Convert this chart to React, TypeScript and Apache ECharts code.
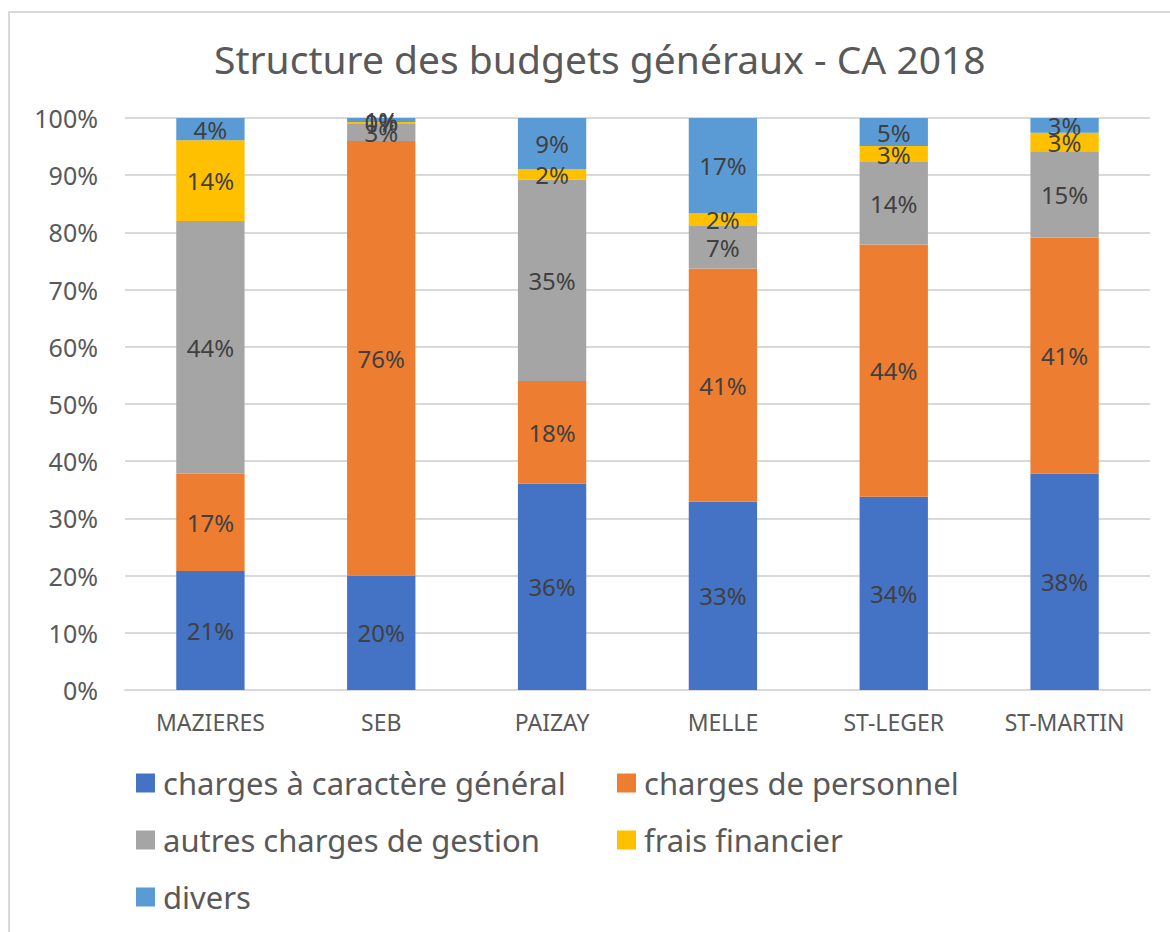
import React, { useEffect, useRef } from "react";
import * as echarts from "echarts";

const categories = ["MAZIERES", "SEB", "PAIZAY", "MELLE", "ST-LEGER", "ST-MARTIN"];
const seriesNames = [
  "charges à caractère général",
  "charges de personnel",
  "autres charges de gestion",
  "frais financier",
  "divers",
];
const chargesGeneral = [20.8, 20.0, 36.1, 32.9, 33.8, 37.8];
const chargesPersonnel = [17.0, 76.0, 17.9, 40.8, 44.1, 41.3];
const autresCharges = [44.2, 3.1, 35.2, 7.4, 14.4, 15.1];
const fraisFinancier = [14.1, 0.2, 1.9, 2.3, 2.8, 3.2];
const divers = [3.9, 0.7, 8.9, 16.6, 4.9, 2.6];
const colors = ["#4472C4", "#ED7D31", "#A5A5A5", "#FFC000", "#5B9BD5"];
const title = "Structure des budgets généraux - CA 2018";

const FONT = "'Noto Sans', sans-serif";

export default function App() {
  const ref = useRef<HTMLDivElement>(null);
  useEffect(() => {
    document.body.style.margin = "0";
    const chart = echarts.init(ref.current!, null, { renderer: "svg" });
    const values = [chargesGeneral, chargesPersonnel, autresCharges, fraisFinancier, divers];
    const series = values.map((data, i) => ({
      name: seriesNames[i],
      type: "bar",
      stack: "total",
      barWidth: "40%",
      data,
      itemStyle: { color: colors[i] },
      label: {
        show: true,
        position: "inside",
        formatter: (p: any) => Math.round(p.value) + "%",
        color: "#404040",
        fontSize: 24,
        fontFamily: FONT,
      },
    }));
    const legendText = { fontFamily: FONT, fontSize: 31, color: "#595959", lineHeight: 34, padding: [0, 0, 0, 3] };
    chart.setOption({
      animation: false,
      backgroundColor: "#ffffff",
      title: {
        text: title,
        left: 209,
        top: 34,
        textStyle: { fontFamily: FONT, fontSize: 39, fontWeight: "normal", color: "#595959" },
      },
      graphic: [
        {
          type: "rect",
          shape: { x: 9, y: 12, width: 1200, height: 960 },
          style: { fill: "none", stroke: "#D9D9D9", lineWidth: 2 },
          silent: true,
          z: -10,
        },
      ],
      grid: { left: 125, right: 20, top: 118, bottom: 242 },
      xAxis: {
        type: "category",
        data: categories,
        axisLine: { lineStyle: { color: "#D9D9D9", width: 2 } },
        axisTick: { show: false },
        axisLabel: { color: "#595959", fontSize: 23, fontFamily: FONT, margin: 20 },
      },
      yAxis: {
        type: "value",
        min: 0,
        max: 100,
        interval: 10,
        axisLine: { show: false },
        axisTick: { show: false },
        splitLine: { lineStyle: { color: "#D9D9D9", width: 2 } },
        axisLabel: { color: "#595959", fontSize: 25, fontFamily: FONT, margin: 27, formatter: "{value}%" },
      },
      legend: [
        {
          orient: "vertical",
          left: 131,
          top: 761,
          itemWidth: 19,
          itemHeight: 19,
          itemGap: 23,
          icon: "rect",
          data: [seriesNames[0], seriesNames[2], seriesNames[4]],
          textStyle: legendText,
        },
        {
          orient: "vertical",
          left: 612,
          top: 761,
          itemWidth: 19,
          itemHeight: 19,
          itemGap: 23,
          icon: "rect",
          data: [seriesNames[1], seriesNames[3]],
          textStyle: legendText,
        },
      ],
      series,
    });
    return () => chart.dispose();
  }, []);
  return <div ref={ref} style={{ width: 1170, height: 932 }} />;
}
